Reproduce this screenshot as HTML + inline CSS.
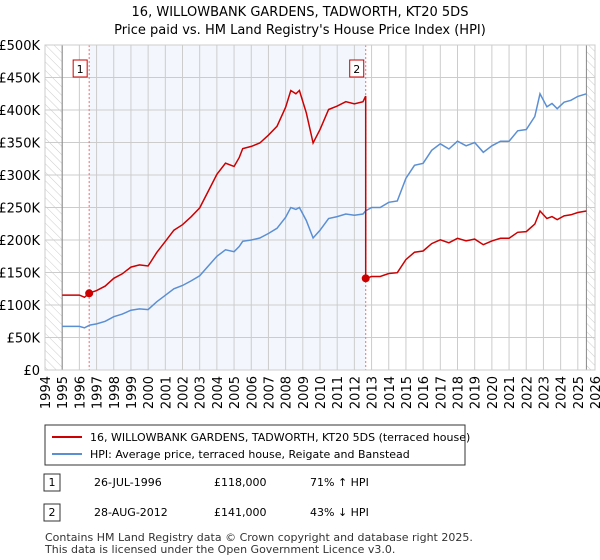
<!DOCTYPE html>
<html><head><meta charset="utf-8"><style>
body{margin:0;background:#fff;font-family:"Liberation Sans","DejaVu Sans",sans-serif;}
#wrap{position:relative;width:600px;height:560px;overflow:hidden;}
text{font-family:"DejaVu Sans","Liberation Sans",sans-serif;}
</style></head><body>
<div id="wrap">
<svg id="svg" width="600" height="560">
<defs><pattern id="hatch" width="6" height="6" patternUnits="userSpaceOnUse" patternTransform="rotate(-45)"><line x1="0" y1="0" x2="0" y2="6" stroke="#ccc" stroke-width="1"/></pattern></defs>
<text x="300" y="16" text-anchor="middle" font-size="13">16, WILLOWBANK GARDENS, TADWORTH, KT20 5DS</text>
<text x="300" y="34" text-anchor="middle" font-size="13">Price paid vs. HM Land Registry's House Price Index (HPI)</text>
<g id="plot"></g>
<rect x="45" y="425" width="420" height="40" fill="#fff" stroke="#333"/>
<line x1="52" y1="437" x2="82" y2="437" stroke="#cc0000" stroke-width="2"/>
<text x="90" y="441" font-size="11">16, WILLOWBANK GARDENS, TADWORTH, KT20 5DS (terraced house)</text>
<line x1="52" y1="454" x2="82" y2="454" stroke="#5b8fd4" stroke-width="2"/>
<text x="90" y="458" font-size="11">HPI: Average price, terraced house, Reigate and Banstead</text>
<g>
<rect x="44" y="474" width="16" height="17" fill="#fff" stroke="#333"/><text x="52" y="486" font-size="11" text-anchor="middle">1</text>
<text x="94" y="486" font-size="11">26-JUL-1996</text><text x="214" y="486" font-size="11">£118,000</text><text x="310" y="486" font-size="11">71% ↑ HPI</text></g>
<g>
<rect x="44" y="504" width="16" height="17" fill="#fff" stroke="#333"/><text x="52" y="516" font-size="11" text-anchor="middle">2</text>
<text x="94" y="516" font-size="11">28-AUG-2012</text><text x="214" y="516" font-size="11">£141,000</text><text x="310" y="516" font-size="11">43% ↓ HPI</text></g>
<text x="45" y="541" font-size="11" fill="#333">Contains HM Land Registry data © Crown copyright and database right 2025.</text>
<text x="45" y="553" font-size="11" fill="#333">This data is licensed under the Open Government Licence v3.0.</text>
</svg></div>
<script>
const hpiYears=[1995,1996,1996.3,1996.6,1997,1997.5,1998,1998.5,1999,1999.5,2000,2000.5,2001,2001.5,2002,2002.5,2003,2003.5,2004,2004.5,2005,2005.3,2005.5,2006,2006.5,2007,2007.5,2008,2008.3,2008.6,2008.8,2009.2,2009.6,2010,2010.5,2011,2011.5,2012,2012.5,2012.66,2013,2013.5,2014,2014.5,2015,2015.5,2016,2016.5,2017,2017.5,2018,2018.5,2019,2019.5,2020,2020.5,2021,2021.5,2022,2022.5,2022.8,2023.2,2023.5,2023.8,2024.2,2024.6,2025,2025.5];
const hpiValues=[67,67,65,69,71,75,82,86,92,94,93,105,115,125,130,137,145,160,175,185,182,190,198,200,203,210,218,235,250,247,250,230,203,215,233,236,240,238,240,245,250,250,258,260,295,315,318,338,348,340,352,345,350,335,345,352,352,368,370,390,425,405,410,402,412,415,421,425];
const saleDates=[1996.57,2012.66];
const salePrices=[118,141];
const yTicks=[0,50,100,150,200,250,300,350,400,450,500];
const yTickLabels=["£0","£50K","£100K","£150K","£200K","£250K","£300K","£350K","£400K","£450K","£500K"];
const xTicks=[1994,1995,1996,1997,1998,1999,2000,2001,2002,2003,2004,2005,2006,2007,2008,2009,2010,2011,2012,2013,2014,2015,2016,2017,2018,2019,2020,2021,2022,2023,2024,2025,2026];
const X0=45,X1=595,Y0=370,Y1=45;
const xs=v=>X0+(v-1994)/32*(X1-X0);
const ys=v=>Y0-v/500*(Y0-Y1);
const g=document.getElementById('plot');
const NS='http://www.w3.org/2000/svg';
function mk(t,a){const e=document.createElementNS(NS,t);for(const k in a)e.setAttribute(k,a[k]);g.appendChild(e);return e;}
let e;
e=mk('rect',{x:xs(saleDates[0]),y:Y1,width:xs(saleDates[1])-xs(saleDates[0]),height:Y0-Y1,fill:'#eef3fc',opacity:0.7});


e=mk('rect',{x:X0,y:Y1,width:xs(1995)-X0,height:Y0-Y1,fill:'url(#hatch)'});


e=mk('rect',{x:xs(2025.5),y:Y1,width:X1-xs(2025.5),height:Y0-Y1,fill:'url(#hatch)'});


yTicks.forEach((v,i)=>{
 e=mk('line',{x1:X0,x2:X1,y1:ys(v),y2:ys(v),stroke:'#ccc'});
 
 
 e=mk('text',{x:X0-5,y:ys(v)+5,'text-anchor':'end','font-size':13});
 e.textContent=yTickLabels[i];
 
 
});
xTicks.forEach(v=>{
 e=mk('line',{x1:xs(v),x2:xs(v),y1:Y1,y2:Y0,stroke:'#ccc'});
 
 
 e=mk('text',{x:0,y:0,'text-anchor':'end','font-size':13,transform:`translate(${xs(v)+5},${Y0+6}) rotate(-90)`});
 e.textContent=v;
 
 
});
e=mk('line',{x1:xs(1995),x2:xs(1995),y1:Y1,y2:Y0,stroke:'#888'});


e=mk('line',{x1:xs(2025.5),x2:xs(2025.5),y1:Y1,y2:Y0,stroke:'#888'});


saleDates.forEach((d,i)=>{
 e=mk('line',{x1:xs(d),x2:xs(d),y1:Y1,y2:Y0,stroke:'#f07070','stroke-dasharray':'2,2'});
 
 
 e=mk('rect',{x:xs(d)-16,y:60,width:14,height:17,fill:'#fff',stroke:'#cc0000'});
 
 
 e=mk('text',{x:xs(d)-9,y:73,'text-anchor':'middle','font-size':11});
 e.textContent=String(i+1);
 
 
});
function interp(t){for(let i=1;i<hpiYears.length;i++){if(t<=hpiYears[i]){const f=(t-hpiYears[i-1])/(hpiYears[i]-hpiYears[i-1]);return hpiValues[i-1]+f*(hpiValues[i]-hpiValues[i-1]);}}return hpiValues[hpiValues.length-1];}
const f1=salePrices[0]/interp(saleDates[0]),f2=salePrices[1]/interp(saleDates[1]);
let hp='',rp='';
hpiYears.forEach((t,i)=>{hp+=(i?'L':'M')+xs(t).toFixed(1)+','+ys(hpiValues[i]).toFixed(1);});
let first=true;
hpiYears.forEach((t,i)=>{
 if(t<saleDates[1]){rp+=(first?'M':'L')+xs(t).toFixed(1)+','+ys(hpiValues[i]*f1).toFixed(1);first=false;}
});
rp+='L'+xs(saleDates[1]).toFixed(1)+','+ys(interp(saleDates[1])*f1).toFixed(1);
rp+='L'+xs(saleDates[1]).toFixed(1)+','+ys(salePrices[1]).toFixed(1);
hpiYears.forEach((t,i)=>{if(t>saleDates[1])rp+='L'+xs(t).toFixed(1)+','+ys(hpiValues[i]*f2).toFixed(1);});
e=mk('path',{d:hp,fill:'none',stroke:'#5b8fd4','stroke-width':1.5});


e=mk('path',{d:rp,fill:'none',stroke:'#cc0000','stroke-width':1.5});


saleDates.forEach((d,i)=>{
 e=mk('circle',{cx:xs(d),cy:ys(salePrices[i]),r:4,fill:'#cc0000'});
 
 
});
e=mk('rect',{x:X0,y:Y1,width:X1-X0,height:Y0-Y1,fill:'none',stroke:'#ccc'});


</script>
</body></html>
